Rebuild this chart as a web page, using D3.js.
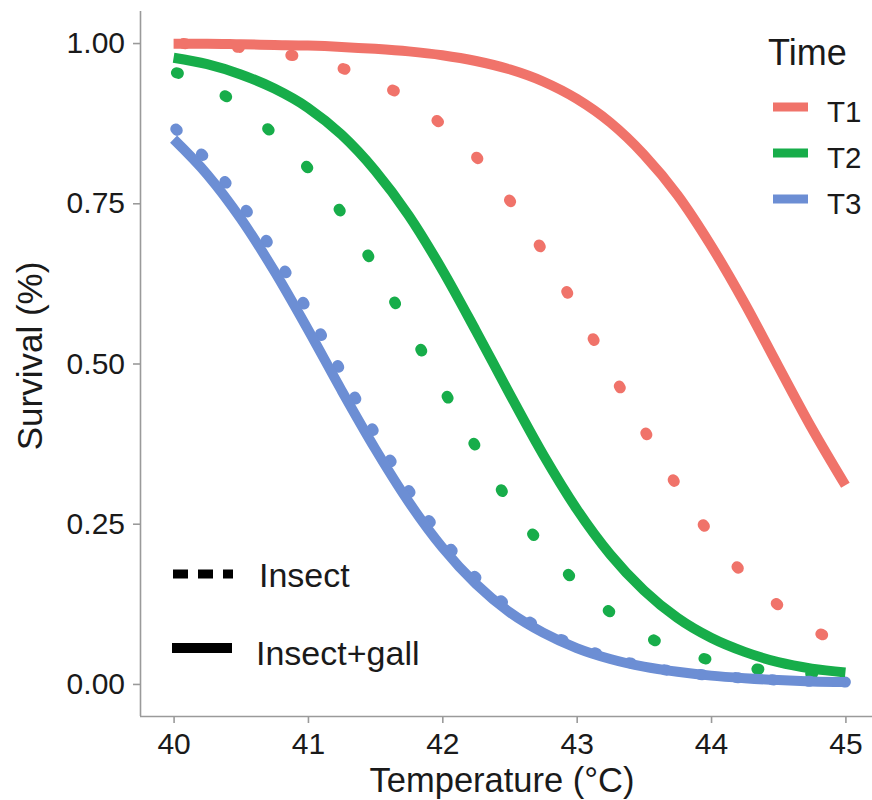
<!DOCTYPE html>
<html>
<head>
<meta charset="utf-8">
<script src="https://cdn.jsdelivr.net/npm/d3@7"></script>
<style>
  html, body { margin: 0; padding: 0; background: #fff; }
  svg { display: block; font-family: "Liberation Sans", Arial, Helvetica, sans-serif; }
</style>
</head>
<body>
<svg id="chart" width="872" height="800"></svg>
<script>
// ---- data ----
const temps = [40, 40.25, 40.5, 40.75, 41, 41.25, 41.5, 41.75, 42, 42.25, 42.5, 42.75, 43, 43.25, 43.5, 43.75, 44, 44.25, 44.5, 44.75, 45];

// Insect+gall (solid)
const t1Gall = [0.999, 0.999, 0.998, 0.997, 0.996, 0.994, 0.991, 0.987, 0.981, 0.972, 0.959, 0.940, 0.913, 0.876, 0.826, 0.763, 0.684, 0.594, 0.496, 0.399, 0.310];
const t2Gall = [0.977, 0.967, 0.951, 0.929, 0.899, 0.857, 0.801, 0.731, 0.646, 0.551, 0.453, 0.358, 0.273, 0.202, 0.146, 0.103, 0.072, 0.050, 0.034, 0.024, 0.018];
const t3Gall = [0.850, 0.795, 0.726, 0.644, 0.553, 0.458, 0.367, 0.284, 0.213, 0.156, 0.112, 0.080, 0.056, 0.039, 0.027, 0.019, 0.013, 0.009, 0.006, 0.004, 0.003];

// Insect (dotted)
const t1Insect = [1.000, 0.997, 0.993, 0.985, 0.976, 0.961, 0.940, 0.912, 0.872, 0.823, 0.755, 0.675, 0.585, 0.490, 0.397, 0.308, 0.232, 0.170, 0.123, 0.086, 0.060];
const t2Insect = [0.955, 0.935, 0.900, 0.857, 0.805, 0.735, 0.650, 0.556, 0.462, 0.370, 0.283, 0.214, 0.158, 0.112, 0.077, 0.052, 0.037, 0.026, 0.020, 0.016, 0.013];
const t3Insect = [0.869, 0.817, 0.751, 0.672, 0.582, 0.486, 0.390, 0.302, 0.227, 0.166, 0.119, 0.084, 0.059, 0.041, 0.028, 0.019, 0.013, 0.009, 0.006, 0.004, 0.003];

const timeLabels = ["T1", "T2", "T3"];
const typeLabels = ["Insect", "Insect+gall"];
const xTicks = [40, 41, 42, 43, 44, 45];
const yTicks = [0, 0.25, 0.5, 0.75, 1];
const colors = ["#F0736A", "#17AD4A", "#6C8ED4"];

// ---- layout ----
const svg = d3.select("#chart");
const x = d3.scaleLinear().domain([39.75, 45.25]).range([140, 879]);
const y = d3.scaleLinear().domain([-0.05, 1.05]).range([716, 11]);

const plot = svg.append("g");
plot.append("clipPath").attr("id", "clip")
  .append("rect").attr("x", 140).attr("y", 0).attr("width", 740).attr("height", 716);

const line = d3.line().x(d => x(d[0])).y(d => y(d[1])).curve(d3.curveMonotoneX);

const insectSeries = [t1Insect, t2Insect, t3Insect];
const gallSeries = [t1Gall, t2Gall, t3Gall];
const dashStyles = [["2 52", -10], ["2 52", -3], ["2 34", -3]];

const g = plot.append("g").attr("clip-path", "url(#clip)");

// dotted (Insect)
insectSeries.forEach((vals, i) => {
  g.append("path")
    .datum(temps.map((t, j) => [t, vals[j]]))
    .attr("d", line)
    .attr("fill", "none")
    .attr("stroke", colors[i])
    .attr("stroke-width", 11)
    .attr("stroke-linecap", "round")
    .attr("stroke-dasharray", dashStyles[i][0])
    .attr("stroke-dashoffset", dashStyles[i][1]);
});
// solid (Insect+gall)
gallSeries.forEach((vals, i) => {
  g.append("path")
    .datum(temps.map((t, j) => [t, vals[j]]))
    .attr("d", line)
    .attr("fill", "none")
    .attr("stroke", colors[i])
    .attr("stroke-width", 10)
    .attr("stroke-linecap", "butt");
});

// ---- axes ----
const axisColor = "#9a9a9a";
const xAxis = svg.append("g").attr("transform", "translate(0,716)")
  .call(d3.axisBottom(x).tickValues(xTicks).tickFormat(d3.format("d")).tickSize(7).tickPadding(10));
const yAxis = svg.append("g").attr("transform", "translate(140,0)")
  .call(d3.axisLeft(y).tickValues(yTicks).tickFormat(d3.format(".2f")).tickSize(7).tickPadding(8));

[xAxis, yAxis].forEach(a => {
  a.select(".domain").attr("stroke", axisColor).attr("stroke-width", 1.6);
  a.selectAll(".tick line").attr("stroke", axisColor).attr("stroke-width", 1.6);
  a.selectAll(".tick text").attr("fill", "#1a1a1a").style("font-size", "30px")
    .style("font-family", "'Liberation Sans', Arial, sans-serif");
});
xAxis.select(".domain").attr("d", "M140,0.5H879");
yAxis.select(".domain").attr("d", "M0.5,11V716");

// axis titles
svg.append("text").attr("x", 502).attr("y", 792).attr("text-anchor", "middle")
  .attr("fill", "#1a1a1a").style("font-size", "34.5px").text("Temperature (°C)");
svg.append("text").attr("transform", "translate(42,356) rotate(-90)").attr("text-anchor", "middle")
  .attr("fill", "#1a1a1a").style("font-size", "35px").text("Survival (%)");

// ---- legend: Time ----
svg.append("text").attr("x", 768).attr("y", 65).attr("fill", "#1a1a1a")
  .style("font-size", "36px").text("Time");
const legY = [107, 153, 199];
timeLabels.forEach((lab, i) => {
  svg.append("line").attr("x1", 773).attr("x2", 808).attr("y1", legY[i]).attr("y2", legY[i])
    .attr("stroke", colors[i]).attr("stroke-width", 9);
  svg.append("text").attr("x", 827).attr("y", legY[i] + 15).attr("fill", "#1a1a1a")
    .style("font-size", "29.5px").text(lab);
});

// ---- legend: type ----
svg.append("line").attr("x1", 173).attr("x2", 233).attr("y1", 574).attr("y2", 574)
  .attr("stroke", "#000").attr("stroke-width", 9).attr("stroke-dasharray", "15 10");
svg.append("text").attr("x", 259).attr("y", 587).attr("fill", "#1a1a1a")
  .style("font-size", "34px").text(typeLabels[0]);
svg.append("line").attr("x1", 172).attr("x2", 232).attr("y1", 648).attr("y2", 648)
  .attr("stroke", "#000").attr("stroke-width", 10);
svg.append("text").attr("x", 256).attr("y", 665).attr("fill", "#1a1a1a")
  .style("font-size", "34px").text(typeLabels[1]);
</script>
</body>
</html>
